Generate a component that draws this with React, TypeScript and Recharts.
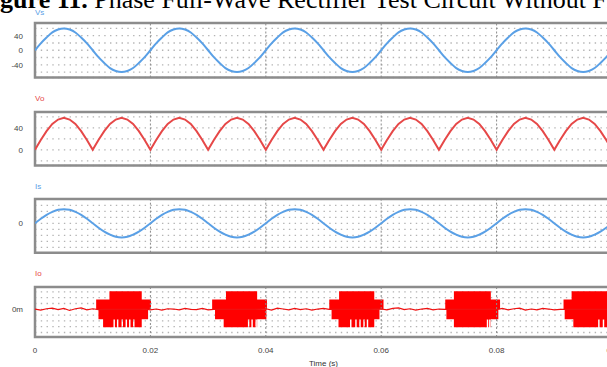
import React from 'react';
import {
  ComposedChart,
  Line,
  Area,
  XAxis,
  YAxis,
  CartesianGrid,
  ReferenceLine,
  ReferenceArea,
  Label,
} from 'recharts';

// time axis, seconds
const TIME_TICKS = [0, 0.02, 0.04, 0.06, 0.08, 0.1];
const MAJOR_LINES = [0.02, 0.04, 0.06, 0.08];

// one sample per millisecond, 0 .. 0.1 s
const vsValues = [
  0, 19, 35, 49, 57, 60, 57, 49, 35, 19, 0, -19, -35, -49, -57, -60, -57, -49, -35, -19,
  0, 19, 35, 49, 57, 60, 57, 49, 35, 19, 0, -19, -35, -49, -57, -60, -57, -49, -35, -19,
  0, 19, 35, 49, 57, 60, 57, 49, 35, 19, 0, -19, -35, -49, -57, -60, -57, -49, -35, -19,
  0, 19, 35, 49, 57, 60, 57, 49, 35, 19, 0, -19, -35, -49, -57, -60, -57, -49, -35, -19,
  0, 19, 35, 49, 57, 60, 57, 49, 35, 19, 0, -19, -35, -49, -57, -60, -57, -49, -35, -19,
  0,
];

const voValues = [
  0, 18, 34, 47, 55, 58, 55, 47, 34, 18, 0, 18, 34, 47, 55, 58, 55, 47, 34, 18,
  0, 18, 34, 47, 55, 58, 55, 47, 34, 18, 0, 18, 34, 47, 55, 58, 55, 47, 34, 18,
  0, 18, 34, 47, 55, 58, 55, 47, 34, 18, 0, 18, 34, 47, 55, 58, 55, 47, 34, 18,
  0, 18, 34, 47, 55, 58, 55, 47, 34, 18, 0, 18, 34, 47, 55, 58, 55, 47, 34, 18,
  0, 18, 34, 47, 55, 58, 55, 47, 34, 18, 0, 18, 34, 47, 55, 58, 55, 47, 34, 18,
  0,
];

const isValues = [
  0, 1.5, 2.8, 3.8, 4.5, 4.7, 4.5, 3.8, 2.8, 1.5, 0, -1.5, -2.8, -3.8, -4.5, -4.7, -4.5, -3.8, -2.8, -1.5,
  0, 1.5, 2.8, 3.8, 4.5, 4.7, 4.5, 3.8, 2.8, 1.5, 0, -1.5, -2.8, -3.8, -4.5, -4.7, -4.5, -3.8, -2.8, -1.5,
  0, 1.5, 2.8, 3.8, 4.5, 4.7, 4.5, 3.8, 2.8, 1.5, 0, -1.5, -2.8, -3.8, -4.5, -4.7, -4.5, -3.8, -2.8, -1.5,
  0, 1.5, 2.8, 3.8, 4.5, 4.7, 4.5, 3.8, 2.8, 1.5, 0, -1.5, -2.8, -3.8, -4.5, -4.7, -4.5, -3.8, -2.8, -1.5,
  0, 1.5, 2.8, 3.8, 4.5, 4.7, 4.5, 3.8, 2.8, 1.5, 0, -1.5, -2.8, -3.8, -4.5, -4.7, -4.5, -3.8, -2.8, -1.5,
  0,
];

// Io baseline ripple between the bursts (mA)
const ioNoise = [
  0.1, -0.3, 0.2, 0.4, -0.1, 0.3, -0.4, 0.2, 0.5, -0.2,
  0.2, -0.1, 0, 0, 0, 0, 0, 0, 0, 0.1,
  -0.2, 0.1, -0.3, 0.2, 0.1, -0.2, 0.3, 0, -0.1, 0.3,
  -0.2, 0, 0, 0, 0, 0, 0, 0, 0, 0.1,
  0.2, -0.3, 0.4, 0.1, -0.2, 0.3, -0.1, 0.2, -0.3, 0.1,
  0.3, 0, 0, 0, 0, 0, 0, 0, 0, 0.1,
  0.1, -0.2, 0.3, 0.5, -0.1, 0.2, -0.3, 0.1, 0.3, -0.2,
  0.1, 0, 0, 0, 0, 0, 0, 0, 0, 0.1,
  -0.1, 0.3, -0.2, 0.2, 0.4, -0.3, 0.1, -0.2, 0.3, 0.1,
  -0.2, 0, 0, 0, 0, 0, 0, 0, 0, 0,
  0,
];

// Io burst envelope, upper edge (step points)
const ioHiT = [0, 0.0106, 0.0129, 0.0185, 0.0201, 0.0307, 0.0331, 0.0385, 0.0402, 0.051, 0.0527, 0.0588, 0.0604, 0.0711, 0.0726, 0.079, 0.0806, 0.0916, 0.093, 0.1];
const ioHiV = [0, 3.4, 6.2, 3.4, 0, 3.4, 6.2, 3.4, 0, 3.4, 6.2, 3.4, 0, 3.4, 6.2, 3.4, 0, 3.4, 6.2, 6.2];

// Io burst envelope, lower edge (with the light gaps)
const ioLoT = [
  0, 0.011, 0.0118, 0.0136, 0.01385, 0.0142, 0.01445, 0.015, 0.01525, 0.0157, 0.01595, 0.0163, 0.01655, 0.017, 0.01725, 0.0185, 0.0196,
  0.0312, 0.0327, 0.0369, 0.03715, 0.0375, 0.03775, 0.0382, 0.03845, 0.0385, 0.0401,
  0.0514, 0.0526, 0.0546, 0.05485, 0.0555, 0.05575, 0.0562, 0.05645, 0.0569, 0.05715, 0.0575, 0.05775, 0.0588, 0.0597,
  0.0713, 0.0726, 0.0783, 0.07855, 0.0787, 0.07895, 0.079, 0.0803,
  0.0918, 0.0933, 0.0976, 0.09785, 0.0984, 0.09865, 0.1,
];
const ioLoV = [
  0, -3.4, -6.2, -3.5, -6.2, -3.5, -6.2, -3.5, -6.2, -3.5, -6.2, -3.5, -6.2, -3.5, -6.2, -3.4, 0,
  -3.4, -6.2, -3.5, -6.2, -3.5, -6.2, -3.5, -6.2, -3.4, 0,
  -3.4, -6.2, -3.5, -6.2, -3.5, -6.2, -3.5, -6.2, -3.5, -6.2, -3.5, -6.2, -3.4, 0,
  -3.4, -6.2, -3.5, -6.2, -3.5, -6.2, -3.4, 0,
  -3.4, -6.2, -3.5, -6.2, -3.5, -6.2, -6.2,
];

const waveRows = vsValues.map((v, i) => ({ t: i / 1000, vs: v, vo: voValues[i], is: isValues[i] }));

const ioRows = [
  ...ioNoise.map((v, i) => ({ t: i / 1000, base: v })),
  ...ioHiT.map((t, i) => ({ t, hi: ioHiV[i] })),
  ...ioLoT.map((t, i) => ({ t, lo: ioLoV[i] })),
].sort((a, b) => a.t - b.t);

const BLUE = '#5aa0e6';
const RED = '#e64848';
const M = 4;

function Panel({ top, boxH, domain, grid, labels, data, showX = false, children }: any) {
  const h = M + boxH + (showX ? 30 : M);
  return (
    <div style={{ position: 'absolute', left: 0, top: top - M }}>
      <ComposedChart width={617} height={h} data={data} margin={{ top: M, right: 5, bottom: showX ? 0 : M, left: 0 }}>
        <XAxis
          type="number"
          dataKey="t"
          domain={[0, 0.1]}
          ticks={TIME_TICKS}
          interval={0}
          hide={!showX}
          height={30}
          axisLine={false}
          tickLine={false}
          tickSize={0}
          tickMargin={10}
          tick={{ fontSize: 8, fill: '#444' }}
          allowDataOverflow
        >
          {showX && <Label value="Time (s)" position="insideBottom" offset={1} style={{ fontSize: 8, fill: '#333' }} />}
        </XAxis>
        <YAxis
          type="number"
          domain={domain}
          ticks={grid}
          interval={0}
          width={35}
          axisLine={false}
          tickLine={false}
          tickSize={0}
          tickMargin={12}
          tick={{ fontSize: 8, fill: '#444' }}
          tickFormatter={(v: number) => (labels[v] !== undefined ? labels[v] : '')}
          allowDataOverflow
        />
        <CartesianGrid vertical={false} stroke="#b4b4b4" strokeDasharray="1.4 4.37" strokeWidth={1.3} />
        {MAJOR_LINES.map((x) => (
          <ReferenceLine key={x} x={x} stroke="#8a8a8a" strokeDasharray="2 2" />
        ))}
        {children}
        <ReferenceArea
          x1={0}
          x2={0.1}
          y1={domain[0]}
          y2={domain[1]}
          fill="none"
          stroke="#8c8c8c"
          strokeWidth={2.5}
          ifOverflow="visible"
        />
      </ComposedChart>
    </div>
  );
}

const seriesLabel = (text: string, color: string, y: number) => (
  <div style={{ position: 'absolute', left: 35, top: y - 5, fontSize: 8, lineHeight: '10px', color }}>{text}</div>
);

export default function App() {
  return (
    <div
      style={{
        position: 'absolute',
        left: 0,
        top: 0,
        width: 607,
        height: 367,
        overflow: 'hidden',
        background: '#fff',
        fontFamily: '"Liberation Sans", Arial, sans-serif',
      }}
    >
      <div
        style={{
          position: 'absolute',
          left: -23,
          top: -13,
          fontFamily: '"Liberation Serif", "Times New Roman", serif',
          fontSize: 26,
          lineHeight: '26px',
          whiteSpace: 'nowrap',
          color: '#000',
        }}
      >
        <b>Figure 11.</b> Phase Full-Wave Rectifier Test Circuit Without Filter
      </div>

      {seriesLabel('Vs', BLUE, 13)}
      <Panel top={23} boxH={54.5} domain={[-75, 75]} grid={[-60, -40, -20, 0, 20, 40, 60]} labels={{ 40: '40', 0: '0', '-40': '-40' }} data={waveRows}>
        <Line type="monotone" dataKey="vs" stroke={BLUE} strokeWidth={2} dot={false} isAnimationActive={false} />
      </Panel>

      {seriesLabel('Vo', RED, 98.5)}
      <Panel top={111.5} boxH={53.5} domain={[-28.5, 68.7]} grid={[-20, 0, 20, 40, 60]} labels={{ 40: '40', 0: '0' }} data={waveRows}>
        <Line type="linear" dataKey="vo" stroke={RED} strokeWidth={2} dot={false} isAnimationActive={false} />
      </Panel>

      {seriesLabel('Is', BLUE, 186.5)}
      <Panel top={199} boxH={53.7} domain={[-9.8, 8.1]} grid={[-8, -6, -4, -2, 0, 2, 4, 6]} labels={{ 0: '0' }} data={waveRows}>
        <Line type="monotone" dataKey="is" stroke={BLUE} strokeWidth={2} dot={false} isAnimationActive={false} />
      </Panel>

      {seriesLabel('Io', RED, 274)}
      <Panel top={286.7} boxH={50} domain={[-9.55, 7.7]} grid={[-8, -6, -4, -2, 0, 2, 4, 6]} labels={{ 0: '0m' }} data={ioRows} showX>
        <Line type="linear" dataKey="base" stroke="#f01010" strokeWidth={1.2} dot={false} connectNulls isAnimationActive={false} />
        <Area type="stepAfter" dataKey="hi" baseValue={0} fill="#ff0000" fillOpacity={1} stroke="none" connectNulls isAnimationActive={false} />
        <Area type="stepAfter" dataKey="lo" baseValue={0} fill="#ff0000" fillOpacity={1} stroke="none" connectNulls isAnimationActive={false} />
      </Panel>
    </div>
  );
}
